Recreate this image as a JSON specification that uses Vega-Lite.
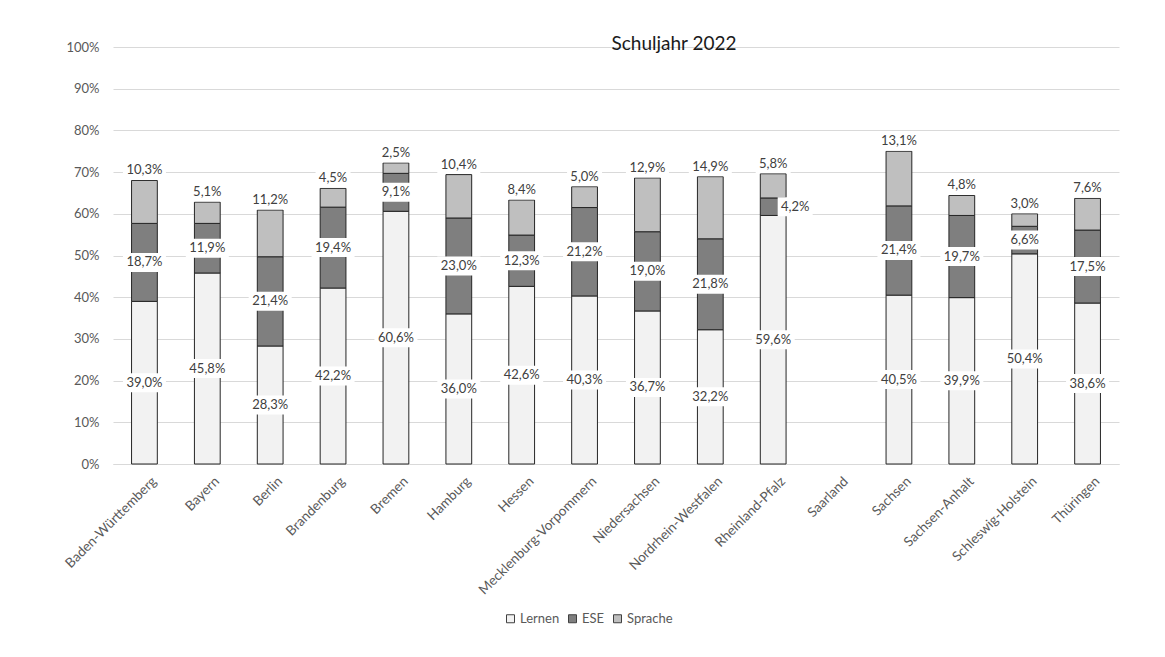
{
  "$schema": "https://vega.github.io/schema/vega-lite/v6.json",
  "width": 1006,
  "height": 417,
  "autosize": {"type": "none"},
  "padding": {"left": 113, "top": 47, "right": 46, "bottom": 193},
  "background": "white",
  "title": {"text": "Schuljahr 2022", "fontSize": 19, "font": "Lato", "fontWeight": "normal", "color": "#1a1a1a", "anchor": "middle", "dx": 58, "offset": -13},
  "data": {
    "values": [
      {"land": "Baden-Württemberg", "kategorie": "Lernen", "anteil": 0.390},
      {"land": "Baden-Württemberg", "kategorie": "ESE", "anteil": 0.187},
      {"land": "Baden-Württemberg", "kategorie": "Sprache", "anteil": 0.103},
      {"land": "Bayern", "kategorie": "Lernen", "anteil": 0.458},
      {"land": "Bayern", "kategorie": "ESE", "anteil": 0.119},
      {"land": "Bayern", "kategorie": "Sprache", "anteil": 0.051},
      {"land": "Berlin", "kategorie": "Lernen", "anteil": 0.283},
      {"land": "Berlin", "kategorie": "ESE", "anteil": 0.214},
      {"land": "Berlin", "kategorie": "Sprache", "anteil": 0.112},
      {"land": "Brandenburg", "kategorie": "Lernen", "anteil": 0.422},
      {"land": "Brandenburg", "kategorie": "ESE", "anteil": 0.194},
      {"land": "Brandenburg", "kategorie": "Sprache", "anteil": 0.045},
      {"land": "Bremen", "kategorie": "Lernen", "anteil": 0.606},
      {"land": "Bremen", "kategorie": "ESE", "anteil": 0.091},
      {"land": "Bremen", "kategorie": "Sprache", "anteil": 0.025},
      {"land": "Hamburg", "kategorie": "Lernen", "anteil": 0.360},
      {"land": "Hamburg", "kategorie": "ESE", "anteil": 0.230},
      {"land": "Hamburg", "kategorie": "Sprache", "anteil": 0.104},
      {"land": "Hessen", "kategorie": "Lernen", "anteil": 0.426},
      {"land": "Hessen", "kategorie": "ESE", "anteil": 0.123},
      {"land": "Hessen", "kategorie": "Sprache", "anteil": 0.084},
      {"land": "Mecklenburg-Vorpommern", "kategorie": "Lernen", "anteil": 0.403},
      {"land": "Mecklenburg-Vorpommern", "kategorie": "ESE", "anteil": 0.212},
      {"land": "Mecklenburg-Vorpommern", "kategorie": "Sprache", "anteil": 0.050},
      {"land": "Niedersachsen", "kategorie": "Lernen", "anteil": 0.367},
      {"land": "Niedersachsen", "kategorie": "ESE", "anteil": 0.190},
      {"land": "Niedersachsen", "kategorie": "Sprache", "anteil": 0.129},
      {"land": "Nordrhein-Westfalen", "kategorie": "Lernen", "anteil": 0.322},
      {"land": "Nordrhein-Westfalen", "kategorie": "ESE", "anteil": 0.218},
      {"land": "Nordrhein-Westfalen", "kategorie": "Sprache", "anteil": 0.149},
      {"land": "Rheinland-Pfalz", "kategorie": "Lernen", "anteil": 0.596},
      {"land": "Rheinland-Pfalz", "kategorie": "ESE", "anteil": 0.042},
      {"land": "Rheinland-Pfalz", "kategorie": "Sprache", "anteil": 0.058},
      {"land": "Sachsen", "kategorie": "Lernen", "anteil": 0.405},
      {"land": "Sachsen", "kategorie": "ESE", "anteil": 0.214},
      {"land": "Sachsen", "kategorie": "Sprache", "anteil": 0.131},
      {"land": "Sachsen-Anhalt", "kategorie": "Lernen", "anteil": 0.399},
      {"land": "Sachsen-Anhalt", "kategorie": "ESE", "anteil": 0.197},
      {"land": "Sachsen-Anhalt", "kategorie": "Sprache", "anteil": 0.048},
      {"land": "Schleswig-Holstein", "kategorie": "Lernen", "anteil": 0.504},
      {"land": "Schleswig-Holstein", "kategorie": "ESE", "anteil": 0.066},
      {"land": "Schleswig-Holstein", "kategorie": "Sprache", "anteil": 0.030},
      {"land": "Thüringen", "kategorie": "Lernen", "anteil": 0.386},
      {"land": "Thüringen", "kategorie": "ESE", "anteil": 0.175},
      {"land": "Thüringen", "kategorie": "Sprache", "anteil": 0.076}
    ]
  },
  "transform": [
    {"stack": "anteil", "groupby": ["land"], "as": ["y0", "y1"]}
  ],
  "layer": [
    {
      "mark": {"type": "bar", "stroke": "#262626", "strokeWidth": 1},
      "encoding": {
        "x": {
          "field": "land", "type": "nominal", "title": null,
          "scale": {
            "domain": ["Baden-Württemberg", "Bayern", "Berlin", "Brandenburg", "Bremen", "Hamburg", "Hessen", "Mecklenburg-Vorpommern", "Niedersachsen", "Nordrhein-Westfalen", "Rheinland-Pfalz", "Saarland", "Sachsen", "Sachsen-Anhalt", "Schleswig-Holstein", "Thüringen"],
            "paddingInner": 0.59, "paddingOuter": 0.295
          },
          "axis": {"labelAngle": -45, "labelAlign": "right", "labelBaseline": "top", "labelPadding": 10, "labelOffset": 5, "labelFontSize": 13.5, "grid": false, "ticks": false, "domainColor": "#d9d9d9"}
        },
        "y": {
          "field": "y0", "type": "quantitative", "title": null,
          "scale": {"domain": [0, 1], "nice": false},
          "axis": {"values": [0, 0.1, 0.2, 0.3, 0.4, 0.5, 0.6, 0.7, 0.8, 0.9, 1], "format": ".0%", "grid": true, "gridColor": "#d9d9d9", "domain": false, "ticks": false, "labelPadding": 14, "labelFontSize": 13}
        },
        "y2": {"field": "y1"},
        "color": {
          "field": "kategorie", "type": "nominal",
          "scale": {"domain": ["Lernen", "ESE", "Sprache"], "range": ["#F2F2F2", "#7F7F7F", "#BFBFBF"]},
          "legend": {"title": null, "orient": "none", "legendX": 391, "legendY": 565, "direction": "horizontal", "symbolType": "square", "symbolSize": 64, "symbolStrokeColor": "#404040", "symbolStrokeWidth": 1, "labelFontSize": 13, "labelColor": "#595959", "labelFont": "Lato", "columnPadding": 6, "labelOffset": 3}
        }
      }
    },
    {
      "transform": [
        {"filter": "datum.kategorie !== 'Sprache' && !(datum.land === 'Rheinland-Pfalz' && datum.kategorie === 'ESE')"},
        {"fold": ["y0", "y1"], "as": ["edge", "pos"]},
        {"aggregate": [{"op": "mean", "field": "pos", "as": "mid"}], "groupby": ["land", "kategorie", "anteil"]}
      ],
      "layer": [
        {
          "mark": {"type": "tick", "color": "white", "opacity": 1, "thickness": 19},
          "encoding": {
            "x": {"field": "land", "type": "nominal", "title": null},
            "y": {"field": "mid", "type": "quantitative", "title": null},
            "size": {"condition": {"test": "datum.anteil < 0.1", "value": 35}, "value": 43}
          }
        },
        {
          "mark": {"type": "text", "font": "Lato", "fontSize": 13, "color": "#404040"},
          "encoding": {
            "x": {"field": "land", "type": "nominal", "title": null},
            "y": {"field": "mid", "type": "quantitative", "title": null},
            "text": {"field": "anteil", "type": "quantitative", "format": ".1%"}
          }
        }
      ]
    },
    {
      "transform": [
        {"filter": "datum.land === 'Rheinland-Pfalz' && datum.kategorie === 'ESE'"},
        {"fold": ["y0", "y1"], "as": ["edge", "pos"]},
        {"aggregate": [{"op": "mean", "field": "pos", "as": "mid"}], "groupby": ["land", "kategorie", "anteil"]}
      ],
      "layer": [
        {
          "mark": {"type": "tick", "color": "white", "opacity": 1, "thickness": 19, "xOffset": 22},
          "encoding": {
            "x": {"field": "land", "type": "nominal", "title": null},
            "y": {"field": "mid", "type": "quantitative", "title": null},
            "size": {"value": 35}
          }
        },
        {
          "mark": {"type": "text", "font": "Lato", "fontSize": 13, "color": "#404040", "xOffset": 22},
          "encoding": {
            "x": {"field": "land", "type": "nominal", "title": null},
            "y": {"field": "mid", "type": "quantitative", "title": null},
            "text": {"field": "anteil", "type": "quantitative", "format": ".1%"}
          }
        }
      ]
    },
    {
      "transform": [
        {"filter": "datum.kategorie === 'Sprache'"}
      ],
      "layer": [
        {
          "mark": {"type": "tick", "color": "white", "opacity": 1, "thickness": 19, "yOffset": -10},
          "encoding": {
            "x": {"field": "land", "type": "nominal", "title": null},
            "y": {"field": "y1", "type": "quantitative", "title": null},
            "size": {"condition": {"test": "datum.anteil < 0.1", "value": 35}, "value": 43}
          }
        },
        {
          "mark": {"type": "text", "font": "Lato", "fontSize": 13, "color": "#404040", "yOffset": -10},
          "encoding": {
            "x": {"field": "land", "type": "nominal", "title": null},
            "y": {"field": "y1", "type": "quantitative", "title": null},
            "text": {"field": "anteil", "type": "quantitative", "format": ".1%"}
          }
        }
      ]
    }
  ],
  "config": {
    "font": "Lato",
    "view": {"stroke": null},
    "axis": {"labelFont": "Lato", "labelFontSize": 12.5, "labelColor": "#595959", "gridColor": "#d9d9d9", "domainColor": "#d9d9d9", "ticks": false},
    "locale": {"number": {"decimal": ",", "thousands": ".", "grouping": [3], "currency": ["", " €"]}}
  }
}
